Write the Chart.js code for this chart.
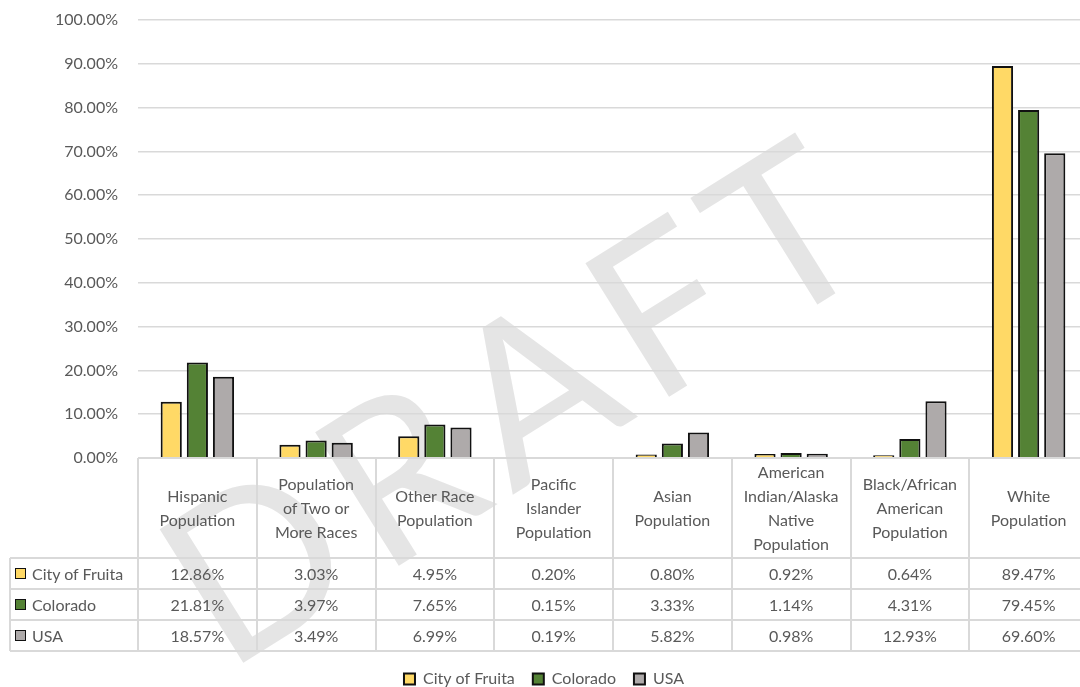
<!DOCTYPE html>
<html>
<head>
<meta charset="utf-8">
<script src="https://cdn.jsdelivr.net/npm/chart.js@4.4.1/dist/chart.umd.min.js"></script>
<style>
  html, body { margin: 0; padding: 0; background: #fff; }
  #wrap { position: relative; width: 1080px; height: 687px; overflow: hidden; }
  #chart { position: absolute; left: 0; top: 0; }
  #table { position: absolute; left: 0; top: 0; width: 1100px; height: 687px; pointer-events: none;
           font-family: Lato, "Open Sans", sans-serif; font-size: 16px; color: #595959; }
  .ln { position: absolute; background: #d9d9d9; }
  .cell { position: absolute; display: flex; align-items: center; justify-content: center; text-align: center; line-height: 24px; }
  .key { position: absolute; width: 9px; height: 9px; border: 1.5px solid #111; }
</style>
</head>
<body>
<div id="wrap">
  <canvas id="chart" width="1100" height="697"></canvas>
  <div id="table"></div>
</div>
<script>
// categories (multi-line as in the data table header)
const categories = [
  ['Hispanic', 'Population'],
  ['Population', 'of Two or', 'More Races'],
  ['Other Race', 'Population'],
  ['Pacific', 'Islander', 'Population'],
  ['Asian', 'Population'],
  ['American', 'Indian/Alaska', 'Native', 'Population'],
  ['Black/African', 'American', 'Population'],
  ['White', 'Population']
];

const seriesNames = ['City of Fruita', 'Colorado', 'USA'];
const fruita   = [12.86, 3.03, 4.95, 0.20, 0.80, 0.92, 0.64, 89.47];
const colorado = [21.81, 3.97, 7.65, 0.15, 3.33, 1.14, 4.31, 79.45];
const usa      = [18.57, 3.49, 6.99, 0.19, 5.82, 0.98, 12.93, 69.60];
const seriesColors = ['#FFD966', '#548235', '#AEAAAA'];

const yMin = 0, yMax = 100, yStep = 10;

const FONT = 'Lato, "Open Sans", sans-serif';
const TEXT = '#595959';
const GRID = '#d9d9d9';

// DRAFT watermark drawn behind everything
const watermark = {
    id: 'watermark',
    beforeDraw(chart) {
        const ctx = chart.ctx;
        ctx.save();
        ctx.translate(512, 402);
        ctx.rotate(-32 * Math.PI / 180);
        ctx.font = '220px ' + FONT;
        ctx.letterSpacing = '16px';
        ctx.fillStyle = '#e5e5e5';
        ctx.textAlign = 'center';
        ctx.textBaseline = 'middle';
        ctx.fillText('DRAFT', 8, 8);
        ctx.restore();
    }
};

const allSeries = [fruita, colorado, usa];

const chart = new Chart(document.getElementById('chart'), {
    type: 'bar',
    data: {
        labels: categories,
        datasets: allSeries.map((vals, i) => ({
            label: seriesNames[i],
            data: vals,
            backgroundColor: seriesColors[i],
            borderColor: '#111',
            borderWidth: 2,
            categoryPercentage: 0.66,
            barPercentage: 0.81
        }))
    },
    options: {
        responsive: false,
        animation: false,
        devicePixelRatio: 1,
        layout: { padding: { top: 20, right: 12, left: 0, bottom: 0 } },
        plugins: {
            tooltip: { enabled: false },
            legend: {
                position: 'bottom',
                labels: {
                    font: { family: FONT, size: 16 },
                    color: TEXT,
                    boxWidth: 11,
                    boxHeight: 11,
                    padding: 18
                }
            }
        },
        scales: {
            x: {
                ticks: { display: false },
                grid: { display: false },
                border: { display: false },
                afterFit(scale) { scale.height = 195; }
            },
            y: {
                min: yMin,
                max: yMax,
                ticks: {
                    stepSize: yStep,
                    padding: 20,
                    color: TEXT,
                    font: { family: FONT, size: 16 },
                    callback: v => v.toFixed(2) + '%'
                },
                grid: { color: GRID, lineWidth: 1.5, drawTicks: false },
                border: { display: false },
                afterFit(scale) {
                    scale.width = 138;
                    scale.paddingTop = 0;
                    scale.paddingBottom = 0;
                }
            }
        }
    },
    plugins: [watermark]
});

// data table under the plot, aligned to the category scale
function buildTable() {
    const t = document.getElementById('table');
    const area = chart.chartArea;
    const x = chart.scales.x;
    const cw = (area.right - area.left) / categories.length;
    const top = area.bottom;
    const headBottom = top + 100;
    const rowH = 31;
    const tableLeft = 10;
    const tableBottom = headBottom + rowH * seriesNames.length;

    const line = (l, tp, w, h) => {
        const d = document.createElement('div');
        d.className = 'ln';
        Object.assign(d.style, { left: l + 'px', top: tp + 'px', width: w + 'px', height: h + 'px' });
        t.appendChild(d);
    };
    const cell = (l, tp, w, h, html, extra) => {
        const d = document.createElement('div');
        d.className = 'cell';
        Object.assign(d.style, { left: l + 'px', top: tp + 'px', width: w + 'px', height: h + 'px' }, extra || {});
        d.innerHTML = html;
        t.appendChild(d);
        return d;
    };

    // horizontal lines
    line(area.left, top - 1, area.right - area.left, 2);
    for (let r = 0; r <= seriesNames.length; r++) {
        line(tableLeft, headBottom + r * rowH - 1, area.right - tableLeft, 2);
    }
    // vertical lines
    line(tableLeft - 1, headBottom, 2, tableBottom - headBottom);
    for (let c = 0; c <= categories.length; c++) {
        line(area.left + c * cw - 1, top, 2, tableBottom - top);
    }

    // header
    categories.forEach((lines, c) => {
        const cx = x.getPixelForValue(c);
        cell(cx - cw / 2, top, cw, headBottom - top, lines.join('<br>'));
    });

    // rows
    seriesNames.forEach((name, r) => {
        const ty = headBottom + r * rowH;
        cell(tableLeft, ty, area.left - tableLeft, rowH, name, { justifyContent: 'flex-start', paddingLeft: '22px', boxSizing: 'border-box' });
        const k = document.createElement('div');
        k.className = 'key';
        Object.assign(k.style, { left: (tableLeft + 5) + 'px', top: (ty + 10) + 'px', background: seriesColors[r] });
        t.appendChild(k);
        allSeries[r].forEach((v, c) => {
            const cx = x.getPixelForValue(c);
            cell(cx - cw / 2, ty, cw, rowH, v.toFixed(2) + '%');
        });
    });
}
buildTable();
</script>
</body>
</html>
